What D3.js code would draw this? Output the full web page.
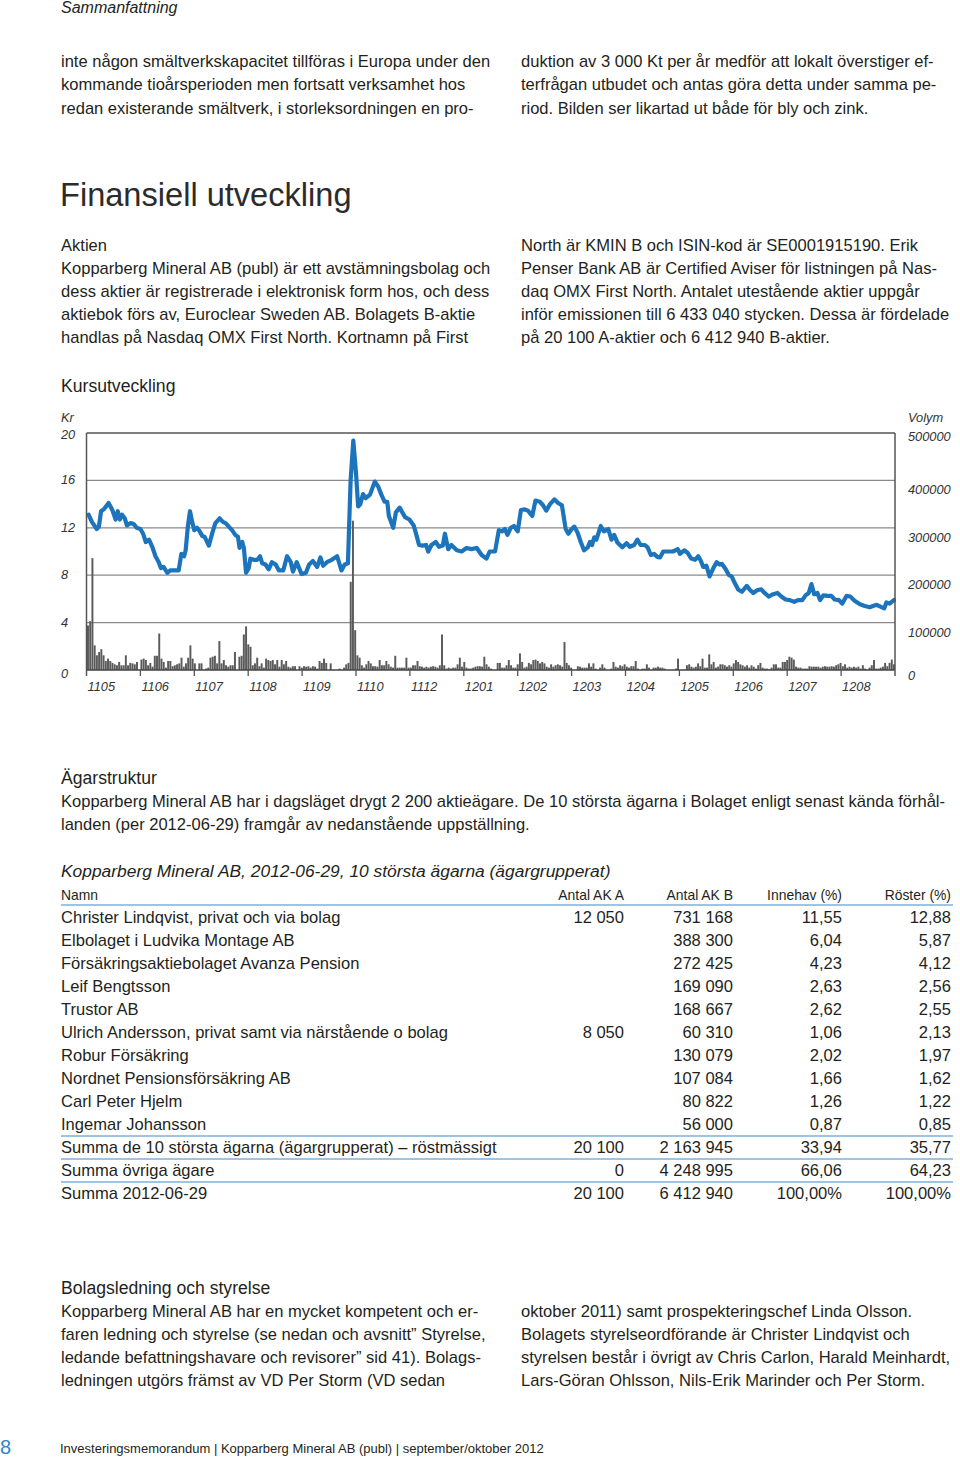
<!DOCTYPE html>
<html><head><meta charset="utf-8">
<script src="https://cdn.jsdelivr.net/npm/d3@7"></script>
<style>
html,body{margin:0;padding:0;background:#fff;}
svg{display:block;font-family:"Liberation Sans",Arial,Helvetica,sans-serif;}
</style></head>
<body>
<svg id="page" width="960" height="1457"></svg>
<script>
// ---------- DATA ----------
const monthLabels = ["1105","1106","1107","1108","1109","1110","1112","1201","1202","1203","1204","1205","1206","1207","1208"];
const priceTicks = [0,4,8,12,16,20];
const volumeTicks = [0,100000,200000,300000,400000,500000];

// price line: position in months since start of axis, and price in Kr
const priceMonth = [0.04,0.10,0.19,0.23,0.27,0.33,0.41,0.48,0.54,0.58,0.62,0.66,0.71,0.75,0.82,0.88,0.93,1.00,1.05,1.10,1.16,1.22,1.28,1.34,1.38,1.43,1.50,1.55,1.62,1.71,1.76,1.81,1.84,1.88,1.92,1.96,2.00,2.05,2.10,2.15,2.19,2.27,2.33,2.39,2.47,2.53,2.58,2.64,2.70,2.76,2.81,2.84,2.89,2.92,2.96,3.01,3.04,3.10,3.17,3.22,3.26,3.32,3.38,3.44,3.51,3.57,3.65,3.72,3.79,3.83,
3.90,3.99,4.07,4.13,4.20,4.28,4.34,4.39,4.46,4.55,4.65,4.73,4.79,4.85,4.90,4.95,5.00,5.04,5.08,5.13,5.18,5.26,5.35,5.41,5.47,5.53,5.58,5.61,5.69,5.74,5.81,5.91,5.99,6.07,6.12,6.17,6.23,6.30,6.34,6.40,6.48,6.54,6.61,6.65,6.71,6.77,6.87,6.96,7.05,7.14,7.24,7.33,7.42,7.48,7.58,
7.65,7.71,7.76,7.81,7.87,7.93,8.00,8.06,8.13,8.19,8.27,8.33,8.41,8.47,8.53,8.60,8.68,8.75,8.82,8.89,8.94,9.00,9.05,9.11,9.17,9.23,9.30,9.34,9.38,9.42,9.46,9.54,9.60,9.68,9.74,9.79,9.85,9.94,10.02,10.08,10.16,10.22,10.28,10.36,10.41,10.47,10.53,10.59,10.64,10.70,10.79,10.88,10.97,11.01,11.09,11.15,11.22,11.29,
11.35,11.40,11.44,11.50,11.56,11.63,11.69,11.75,11.79,11.86,11.92,11.97,12.02,12.09,12.16,12.25,12.31,12.37,12.45,12.52,12.58,12.66,12.74,12.82,12.89,12.97,13.05,13.13,13.20,13.28,13.34,13.40,13.45,13.50,13.56,13.61,13.67,13.75,13.82,13.88,13.96,14.02,14.10,14.17,14.25,14.35,14.44,14.53,14.59,14.66,14.75,14.80,14.84,14.90,14.98];
const priceKr = [13.1,12.5,11.9,12.1,13.4,13.6,14.1,13.5,12.7,13.4,12.7,13.1,12.8,12.2,12.4,12.3,12.0,11.9,11.5,10.8,11.0,10.4,9.6,9.1,8.6,8.7,8.2,8.4,8.4,8.4,9.8,9.6,10.1,12.1,13.4,12.5,11.8,12.0,11.7,11.3,11.25,10.5,11.5,12.4,12.8,12.5,12.4,12.1,11.8,11.4,11.25,10.3,10.8,10.3,8.2,8.6,9.4,9.3,9.3,9.6,9.0,8.9,8.5,9.1,8.9,8.4,8.4,9.6,9.1,8.3,
9.1,8.1,8.2,8.9,9.2,8.7,9.5,8.8,9.1,9.3,9.6,8.4,8.9,9.0,16.0,19.35,16.6,13.8,14.0,14.85,14.5,14.8,15.9,15.5,14.8,14.2,14.2,13.0,12.0,13.3,13.7,12.9,12.7,12.2,11.4,10.55,10.5,10.55,10.0,10.55,10.8,10.4,10.5,11.5,10.2,10.55,10.1,10.0,10.3,10.2,10.3,9.7,9.4,10.0,10.0,
11.8,11.7,11.9,11.4,12.0,12.15,11.7,13.5,13.55,13.45,13.0,14.3,14.2,13.9,13.45,14.0,14.4,14.1,13.9,11.9,11.5,11.9,12.1,11.6,10.8,10.1,10.35,10.8,10.55,11.2,11.0,12.15,11.7,11.9,11.0,11.4,10.75,10.35,10.7,10.4,10.55,11.0,10.55,10.55,10.35,9.7,9.8,9.55,9.5,10.0,10.0,10.0,10.2,9.8,10.1,9.9,9.4,9.3,
9.6,9.2,8.7,8.8,7.9,8.6,9.1,8.9,8.95,8.5,8.0,7.9,7.4,6.8,6.6,7.1,6.75,6.5,6.75,6.8,6.5,6.2,6.4,6.5,6.2,5.95,5.9,5.75,5.9,5.9,6.3,6.5,7.25,6.4,6.5,5.9,6.3,6.25,6.25,5.95,5.9,5.6,6.25,6.2,5.85,5.55,5.4,5.3,5.4,5.5,5.3,5.2,5.7,5.6,5.9];

// daily traded volume, thousands of shares
const volumeK = [94,103,236,52,31,38,44,31,19,24,19,15,12,10,17,10,10,31,10,15,14,12,17,0,22,24,21,10,15,7,30,30,77,24,17,5,19,19,8,10,12,14,26,7,14,26,52,24,14,0,14,14,0,3,5,26,28,30,14,61,14,21,10,7,10,10,38,0,28,30,75,92,54,49,10,14,26,8,14,5,24,21,19,21,12,21,7,21,12,19,7,5,8,8,0,8,5,8,7,8,5,8,7,3,19,15,24,15,0,14,0,0,0,3,0,5,12,15,186,315,
84,31,26,10,5,12,19,14,8,8,7,21,10,10,19,12,7,5,30,5,5,5,5,26,5,5,10,10,19,8,7,5,7,5,7,8,7,5,10,75,10,3,5,3,5,5,12,26,7,17,5,3,3,5,7,8,8,7,28,12,7,3,0,0,15,15,5,5,10,21,10,5,5,12,35,17,5,7,15,12,21,22,19,14,17,14,7,5,12,7,10,12,10,7,59,15,10,5,0,0,8,7,5,5,5,14,7,14,3,0,5,12,5,0,0,3,17,7,5,10,8,12,
7,5,8,8,19,3,0,3,3,12,5,0,5,5,7,5,5,3,0,0,0,0,3,24,0,0,1,10,12,7,5,7,14,8,24,5,5,33,12,17,5,7,12,12,10,7,10,7,14,21,17,12,10,7,10,5,10,7,3,10,15,5,3,3,1,5,12,12,5,5,17,17,21,28,26,22,7,5,5,3,3,3,8,7,7,7,7,5,7,8,7,7,8,7,10,12,15,8,12,5,7,5,7,5,7,3,10,3,1,5,10,21,3,3,5,7,15,8,15,22,12];

// ownership table
const ownerNames = ["Christer Lindqvist, privat och via bolag","Elbolaget i Ludvika Montage AB","Försäkringsaktiebolaget Avanza Pension","Leif Bengtsson","Trustor AB","Ulrich Andersson, privat samt via närstående o bolag","Robur Försäkring","Nordnet Pensionsförsäkring AB","Carl Peter Hjelm","Ingemar Johansson","Summa de 10 största ägarna (ägargrupperat) – röstmässigt","Summa övriga ägare","Summa 2012-06-29"];
const ownerAkA = ["12 050","","","","","8 050","","","","","20 100","0","20 100"];
const ownerAkB = ["731 168","388 300","272 425","169 090","168 667","60 310","130 079","107 084","80 822","56 000","2 163 945","4 248 995","6 412 940"];
const ownerInnehav = ["11,55","6,04","4,23","2,63","2,62","1,06","2,02","1,66","1,26","0,87","33,94","66,06","100,00%"];
const ownerRoster = ["12,88","5,87","4,12","2,56","2,55","2,13","1,97","1,62","1,22","0,85","35,77","64,23","100,00%"];
const tableHeaders = ["Namn","Antal AK A","Antal AK B","Innehav (%)","Röster (%)"];

// ---------- DRAW ----------
const svg = d3.select("#page");
svg.append("rect").attr("width",960).attr("height",1457).attr("fill","#fff");
const TXT = "#231f20";
const BODY = 16.55;

function textLines(lines, x, y0, lh, opts={}) {
  const g = svg.append("g");
  lines.forEach((s,i)=>{
    g.append("text").attr("x",x).attr("y",y0+i*lh)
      .attr("font-size",opts.size||BODY).attr("fill",opts.fill||TXT)
      .attr("font-style",opts.italic?"italic":null)
      .text(s);
  });
  return g;
}

textLines(["Sammanfattning"], 61, 13, 0, {italic:true, size:16});
textLines(["inte någon smältverkskapacitet tillföras i Europa under den","kommande tioårsperioden men fortsatt verksamhet hos","redan existerande smältverk, i storleksordningen en pro-"], 61, 67, 23.3);
textLines(["duktion av 3 000 Kt per år medför att lokalt överstiger ef-","terfrågan utbudet och antas göra detta under samma pe-","riod. Bilden ser likartad ut både för bly och zink."], 521, 67, 23.3);

svg.append("text").attr("x",60).attr("y",206).attr("font-size",32.6).attr("fill","#2b2b2b")
  .attr("font-weight",300).text("Finansiell utveckling");

textLines(["Aktien","Kopparberg Mineral AB (publ) är ett avstämningsbolag och","dess aktier är registrerade i elektronisk form hos, och dess","aktiebok förs av, Euroclear Sweden AB. Bolagets B-aktie","handlas på Nasdaq OMX First North. Kortnamn på First"], 61, 251, 23.1);
textLines(["North är KMIN B och ISIN-kod är SE0001915190. Erik","Penser Bank AB är Certified Aviser för listningen på Nas-","daq OMX First North. Antalet utestående aktier uppgår","inför emissionen till 6 433 040 stycken. Dessa är fördelade","på 20 100 A-aktier och 6 412 940 B-aktier."], 521, 251, 23.1);

textLines(["Kursutveckling"], 61, 392, 0, {size:17.6});

// chart
const X0 = 86.5, X1 = 895, YTOP = 433, YBOT = 670;
const x = d3.scaleLinear().domain([0,15]).range([X0,X1]);
const yP = d3.scaleLinear().domain([0,20]).range([YBOT,YTOP]);
const yV = d3.scaleLinear().domain([0,500000]).range([YBOT,YTOP]);
const xb = d3.scaleBand().domain(d3.range(volumeK.length)).range([X0+0.5,X1]).paddingInner(0.12);

const chart = svg.append("g");
chart.append("g").selectAll("line").data(priceTicks.filter(v=>v>0&&v<20)).join("line")
  .attr("x1",X0).attr("x2",X1).attr("y1",d=>yP(d)).attr("y2",d=>yP(d))
  .attr("stroke","#8a8a8a").attr("stroke-width",1.3);
chart.append("g").selectAll("rect").data(volumeK).join("rect")
  .attr("x",(d,i)=>xb(i)).attr("width",xb.bandwidth())
  .attr("y",d=>yV(d*1000)).attr("height",d=>YBOT-yV(d*1000))
  .attr("fill","#5b5b5b");
const pts = priceMonth.map((m,i)=>[m,priceKr[i]]);
chart.append("path").datum(pts)
  .attr("d",d3.line().x(d=>x(d[0])).y(d=>yP(d[1])))
  .attr("fill","none").attr("stroke","#1c75bc").attr("stroke-width",4.2)
  .attr("stroke-linejoin","round").attr("stroke-linecap","round");
chart.append("line").attr("x1",X0).attr("x2",X1).attr("y1",YTOP).attr("y2",YTOP).attr("stroke","#555").attr("stroke-width",1.5);
chart.append("line").attr("x1",X0).attr("x2",X1).attr("y1",YBOT).attr("y2",YBOT).attr("stroke","#444").attr("stroke-width",1.5);
chart.append("line").attr("x1",X0).attr("x2",X0).attr("y1",YTOP).attr("y2",YBOT+6).attr("stroke","#555").attr("stroke-width",1.5);
chart.append("line").attr("x1",X1).attr("x2",X1).attr("y1",YTOP).attr("y2",YBOT+6).attr("stroke","#555").attr("stroke-width",1.5);
chart.append("g").selectAll("line").data(d3.range(1,15)).join("line")
  .attr("x1",d=>x(d)).attr("x2",d=>x(d)).attr("y1",YBOT).attr("y2",YBOT+6)
  .attr("stroke","#555").attr("stroke-width",1.3);
chart.append("g").selectAll("text").data(monthLabels).join("text")
  .attr("x",(d,i)=>x(i)+1).attr("y",691).attr("font-size",12.8).attr("font-style","italic").attr("fill","#333")
  .text(d=>d);
chart.append("text").attr("x",61).attr("y",422).attr("font-size",12.8).attr("font-style","italic").attr("fill","#333").text("Kr");
chart.append("g").selectAll("text").data(priceTicks).join("text")
  .attr("x",61).attr("y",d=>yP(d)+ (d===0?8:d===20?6:4)).attr("font-size",12.8).attr("font-style","italic").attr("fill","#333")
  .text(d=>d);
chart.append("text").attr("x",908).attr("y",422).attr("font-size",12.8).attr("font-style","italic").attr("fill","#333").text("Volym");
chart.append("g").selectAll("text").data(volumeTicks).join("text")
  .attr("x",908).attr("y",d=>yV(d)+(d===500000?8:d===0?10:14)).attr("font-size",12.8).attr("font-style","italic").attr("fill","#333")
  .text(d=>d);

// Ägarstruktur
textLines(["Ägarstruktur"], 61, 784, 0, {size:17.6});
textLines(["Kopparberg Mineral AB har i dagsläget drygt 2 200 aktieägare. De 10 största ägarna i Bolaget enligt senast kända förhål-","landen (per 2012-06-29) framgår av nedanstående uppställning."], 61, 807, 23.1);

textLines(["Kopparberg Mineral AB, 2012-06-29, 10 största ägarna (ägargrupperat)"], 61, 877, 0, {size:17.4, italic:true});

// table
const colRight = [624, 733, 842, 951];
const hdr = svg.append("g").attr("font-size",13.9).attr("fill",TXT);
hdr.append("text").attr("x",61).attr("y",900).text(tableHeaders[0]);
tableHeaders.slice(1).forEach((h,i)=>hdr.append("text").attr("x",colRight[i]).attr("y",900).attr("text-anchor","end").text(h));
const rowY = i => 923 + i*23;
const rowsG = svg.append("g").attr("font-size",BODY).attr("fill",TXT);
ownerNames.forEach((n,i)=>{
  const y = rowY(i);
  rowsG.append("text").attr("x",61).attr("y",y).text(n);
  [ownerAkA[i],ownerAkB[i],ownerInnehav[i],ownerRoster[i]].forEach((v,j)=>{
    rowsG.append("text").attr("x",colRight[j]).attr("y",y).attr("text-anchor","end").text(v);
  });
});
const ruleY = [905, 1136, 1159, 1182];
svg.append("g").selectAll("line").data(ruleY).join("line")
  .attr("x1",61).attr("x2",953).attr("y1",d=>d).attr("y2",d=>d)
  .attr("stroke","#7fb0d8").attr("stroke-width",1.3);

// Bolagsledning
textLines(["Bolagsledning och styrelse"], 61, 1294, 0, {size:17.6});
textLines(["Kopparberg Mineral AB har en mycket kompetent och er-","faren ledning och styrelse (se nedan och avsnitt” Styrelse,","ledande befattningshavare och revisorer” sid 41). Bolags-","ledningen utgörs främst av VD Per Storm (VD sedan"], 61, 1317, 23.1);
textLines(["oktober 2011) samt prospekteringschef Linda Olsson.","Bolagets styrelseordförande är Christer Lindqvist och","styrelsen består i övrigt av Chris Carlon, Harald Meinhardt,","Lars-Göran Ohlsson, Nils-Erik Marinder och Per Storm."], 521, 1317, 23.1);

// footer
svg.append("text").attr("x",0).attr("y",1454).attr("font-size",20).attr("fill","#2f86c6").text("8");
svg.append("text").attr("x",60).attr("y",1453).attr("font-size",13).attr("fill",TXT)
  .text("Investeringsmemorandum | Kopparberg Mineral AB (publ) | september/oktober 2012");
</script>
</body></html>
